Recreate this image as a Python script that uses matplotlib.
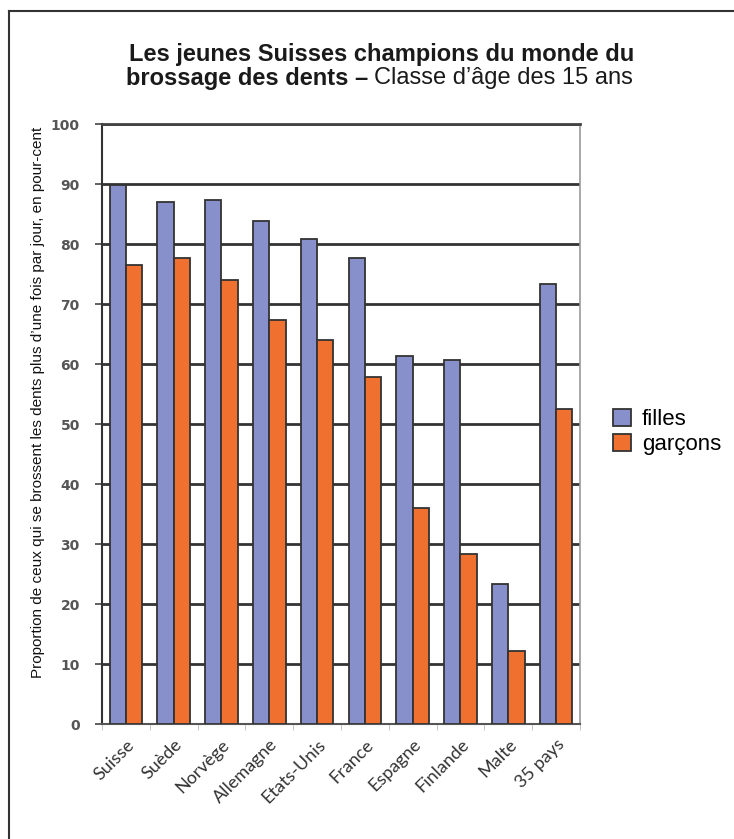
import matplotlib.pyplot as plt
import numpy as np
from matplotlib.lines import Line2D

pays = ['Suisse', 'Suède', 'Norvège', 'Allemagne', 'Etats-Unis', 'France',
        'Espagne', 'Finlande', 'Malte', '35 pays']
filles = [89.8, 87.0, 87.3, 83.9, 80.8, 77.7, 61.3, 60.7, 23.3, 73.3]
garcons = [76.5, 77.7, 74.0, 67.4, 64.0, 57.9, 36.0, 28.3, 12.2, 52.5]
yticks = [0, 10, 20, 30, 40, 50, 60, 70, 80, 90, 100]

W, H = 734, 839
fig = plt.figure(figsize=(W / 100, H / 100), dpi=100)
ax = fig.add_axes([102 / W, 1 - 724 / H, 478 / W, 600 / H])

x = np.arange(len(pays))
bw = 0.34
ax.bar(x - bw / 2, filles, bw, color='#8890cc', edgecolor='#333333', linewidth=1.3,
       label='filles', zorder=3)
ax.bar(x + bw / 2, garcons, bw, color='#f07030', edgecolor='#333333', linewidth=1.3,
       label='garçons', zorder=3)

ax.set_xlim(-0.5, len(pays) - 0.5)
ax.set_ylim(0, 100)
ax.set_yticks(yticks)
ax.set_yticklabels([str(v) for v in yticks], fontsize=10, fontweight='bold',
                   color='#555555', family='DejaVu Sans')
ax.tick_params(axis='y', length=5, width=1.2, color='#444444', pad=11)
ax.yaxis.grid(True, color='#333333', linewidth=2, zorder=1)

ax.set_xticks(x)
ax.set_xticklabels(pays, rotation=45, ha='right', rotation_mode='anchor',
                   fontsize=13, color='#333333', family='Lato')
ax.tick_params(axis='x', length=0, pad=9)
ax.set_xticks(np.arange(len(pays) + 1) - 0.5, minor=True)
ax.tick_params(axis='x', which='minor', length=4, color='#bbbbbb')

ax.spines['left'].set_color('#333333')
ax.spines['left'].set_linewidth(1.5)
ax.spines['bottom'].set_color('#555555')
ax.spines['bottom'].set_linewidth(1.5)
ax.spines['top'].set_color('#444444')
ax.spines['top'].set_linewidth(2)
ax.spines['right'].set_color('#999999')
ax.spines['right'].set_linewidth(1.2)

leg = ax.legend(loc='upper left', bbox_to_anchor=(602 / W, 1 - 398 / H),
                bbox_transform=fig.transFigure, frameon=False,
                handlelength=0.8, handleheight=0.8, handletextpad=0.5,
                labelspacing=0.15, borderpad=0,
                prop={'family': 'Liberation Sans', 'size': 16})

fig.text(382 / W, 1 - 54 / H, 'Les jeunes Suisses champions du monde du',
         ha='center', va='center', fontsize=17, fontweight='bold',
         family='Liberation Sans', color='#1a1a1a')
fig.text(368 / W, 1 - 78 / H, 'brossage des dents –', ha='right', va='center',
         fontsize=17, fontweight='bold', family='Liberation Sans', color='#1a1a1a')
fig.text(374 / W, 1 - 78 / H, 'Classe d’âge des 15 ans', ha='left', va='center',
         fontsize=17, family='Liberation Sans', color='#1a1a1a')

fig.text(38 / W, 1 - 402 / H,
         "Proportion de ceux qui se brossent les dents plus d’une fois par jour, en pour-cent",
         rotation=90, ha='center', va='center', fontsize=11,
         family='Liberation Sans', color='#111111')

fig.add_artist(Line2D([8.5 / W, 8.5 / W], [0, 1 - 11 / H], transform=fig.transFigure,
                      color='#333333', linewidth=1.5))
fig.add_artist(Line2D([8.5 / W, 1], [1 - 11 / H, 1 - 11 / H], transform=fig.transFigure,
                      color='#333333', linewidth=1.5))

fig.savefig('out.png', dpi=100)
